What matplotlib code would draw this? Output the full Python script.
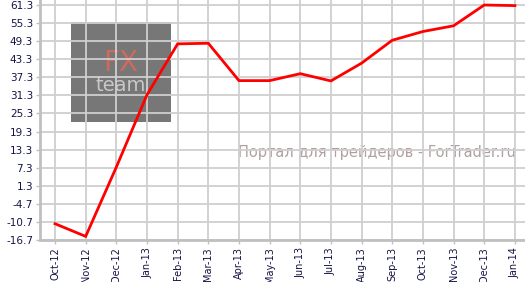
import matplotlib.pyplot as plt
from matplotlib.patches import Rectangle

months = ["Oct-12", "Nov-12", "Dec-12", "Jan-13", "Feb-13", "Mar-13", "Apr-13", "May-13",
          "Jun-13", "Jul-13", "Aug-13", "Sep-13", "Oct-13", "Nov-13", "Dec-13", "Jan-14"]
values = [-11.3, -15.5, 7.5, 31.5, 48.4, 48.6, 36.2, 36.2,
          38.5, 36.1, 42.0, 49.6, 52.5, 54.4, 61.3, 61.1]
yticks = [-16.7 + 6 * i for i in range(14)]

fig = plt.figure(figsize=(5.25, 2.82), dpi=100)
ax = fig.add_axes([40 / 525, 1 - 240 / 282, 1 - 40 / 525, 240 / 282])

idx = range(len(values))
ax.plot(idx, values, color="#ff0000", lw=2, zorder=5, solid_joinstyle="miter")

ax.set_xlim(-0.49, 15.33)
ax.set_ylim(-16.7, 62.96)
ax.set_yticks(yticks)
ax.set_yticklabels(["%.1f" % v for v in yticks])
ax.set_xticks(list(idx))
ax.set_xticklabels(months, rotation=90)

ax.grid(True, color="#cfcfcf", lw=1.3, zorder=1)
for s in ["top", "right"]:
    ax.spines[s].set_visible(False)
for s in ["left", "bottom"]:
    ax.spines[s].set_color("#c0c0c0")
    ax.spines[s].set_linewidth(2)
ax.tick_params(axis="both", colors="#c0c0c0", labelcolor="#141444",
               labelsize=7.5, length=3, width=1, pad=2)
ax.tick_params(axis="x", labelsize=7)

# watermark logo box (pixel coords relative to axes: 485 x 240)
W, H = 485, 240
ax.add_patch(Rectangle((31 / W, 1 - 122 / H), 100 / W, 100 / H,
                       transform=ax.transAxes, facecolor="#777777",
                       edgecolor="none", zorder=0.2))
ax.text(81 / W, 1 - 63 / H, "FX", transform=ax.transAxes, ha="center",
        va="center", fontsize=20, color="#cf6a5c", zorder=0.3)
ax.text(81 / W, 1 - 85 / H, "team", transform=ax.transAxes, ha="center",
        va="center", fontsize=14, color="#c8c8c8", zorder=0.3)

ax.text(0.982, 1 - 152 / H, "Портал для трейдеров - ForTrader.ru",
        transform=ax.transAxes, ha="right", va="center", fontsize=10.5,
        color="#b0a0a0", zorder=0.3)

fig.savefig("out.png", dpi=100)
